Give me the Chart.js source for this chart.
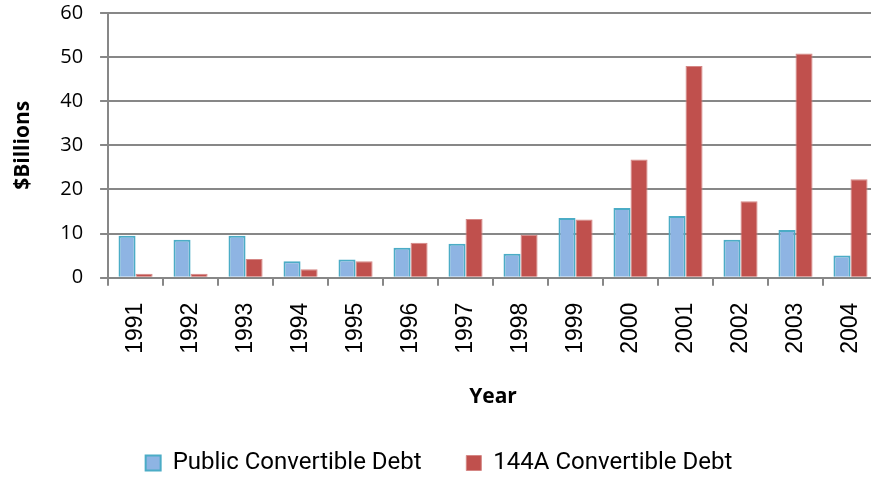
<!DOCTYPE html>
<html>
<head>
<meta charset="utf-8">
<script src="https://cdn.jsdelivr.net/npm/chart.js@4"></script>
<style>
  html, body { margin: 0; padding: 0; background: #fff; overflow: hidden; }
  #debtChart { display: block; }
</style>
</head>
<body>
<canvas id="debtChart" width="885" height="480"></canvas>
<script>
const years = ["1991","1992","1993","1994","1995","1996","1997","1998","1999","2000","2001","2002","2003","2004"];
const publicDebt = [9.5, 8.6, 9.5, 3.7, 4.1, 6.8, 7.7, 5.4, 13.5, 15.8, 14.0, 8.6, 10.8, 5.0];
const debt144A = [0.9, 0.9, 4.2, 1.9, 3.7, 7.9, 13.3, 9.7, 13.2, 26.8, 48.0, 17.3, 50.8, 22.3];
const yTicks = [0, 10, 20, 30, 40, 50, 60];

const gridGrey = "#878787";

new Chart(document.getElementById("debtChart"), {
    type: "bar",
    data: {
        labels: years,
        datasets: [{
            label: "Public Convertible Debt",
            data: publicDebt,
            backgroundColor: "#8EB4E3",
            borderColor: "#4BACC6",
            borderWidth: 2
        }, {
            label: "144A Convertible Debt",
            data: debt144A,
            backgroundColor: "#C0504D",
            borderColor: "#D58785",
            borderWidth: 1
        }]
    },
    options: {
        responsive: false,
        animation: false,
        datasets: {
            bar: { categoryPercentage: 0.62, barPercentage: 1.0 }
        },
        layout: { padding: { top: 0, right: 7, left: 0, bottom: -5 } },
        plugins: {
            tooltip: { enabled: false },
            legend: {
                position: "bottom",
                labels: {
                    color: "#000",
                    font: { family: "Roboto", size: 24 },
                    boxWidth: 15,
                    boxHeight: 15,
                    padding: 3,
                    generateLabels: function(chart){
                        let items = Chart.defaults.plugins.legend.labels.generateLabels(chart);
                        // wider gap after the first entry
                        items[0].text = items[0].text + "       ";
                        return items;
                    }
                }
            }
        },
        scales: {
            x: {
                // rotated labels + tick padding would otherwise add side margins
                afterFit: function(axis){
                    axis.paddingLeft = 0;
                    axis.paddingRight = 0;
                },
                grid: {
                    drawOnChartArea: false,
                    drawTicks: true,
                    tickLength: 8,
                    color: gridGrey,
                    lineWidth: 2
                },
                border: { display: true, color: gridGrey, width: 2 },
                ticks: {
                    color: "#000",
                    font: { family: "Liberation Sans", size: 23 },
                    minRotation: 90,
                    maxRotation: 90,
                    padding: 17
                },
                title: {
                    display: true,
                    text: "Year",
                    color: "#000",
                    font: { family: "Open Sans", size: 21, weight: "bold" },
                    padding: { top: 14, bottom: 38 }
                }
            },
            y: {
                min: 0,
                max: 60,
                afterBuildTicks: function(axis){
                    axis.ticks = yTicks.map(v => ({ value: v }));
                },
                // tick padding would otherwise push the plot top down
                afterFit: function(axis){
                    axis.paddingTop = 13;
                },
                grid: {
                    color: gridGrey,
                    lineWidth: 2,
                    tickLength: 8
                },
                border: { display: true, color: gridGrey, width: 2 },
                ticks: {
                    color: "#000",
                    font: { family: "Open Sans", size: 20 },
                    padding: 17
                },
                title: {
                    display: true,
                    text: "$Billions",
                    color: "#000",
                    font: { family: "Open Sans", size: 21, weight: "bold" },
                    padding: { top: 10, bottom: 8 }
                }
            }
        }
    }
});
</script>
</body>
</html>
